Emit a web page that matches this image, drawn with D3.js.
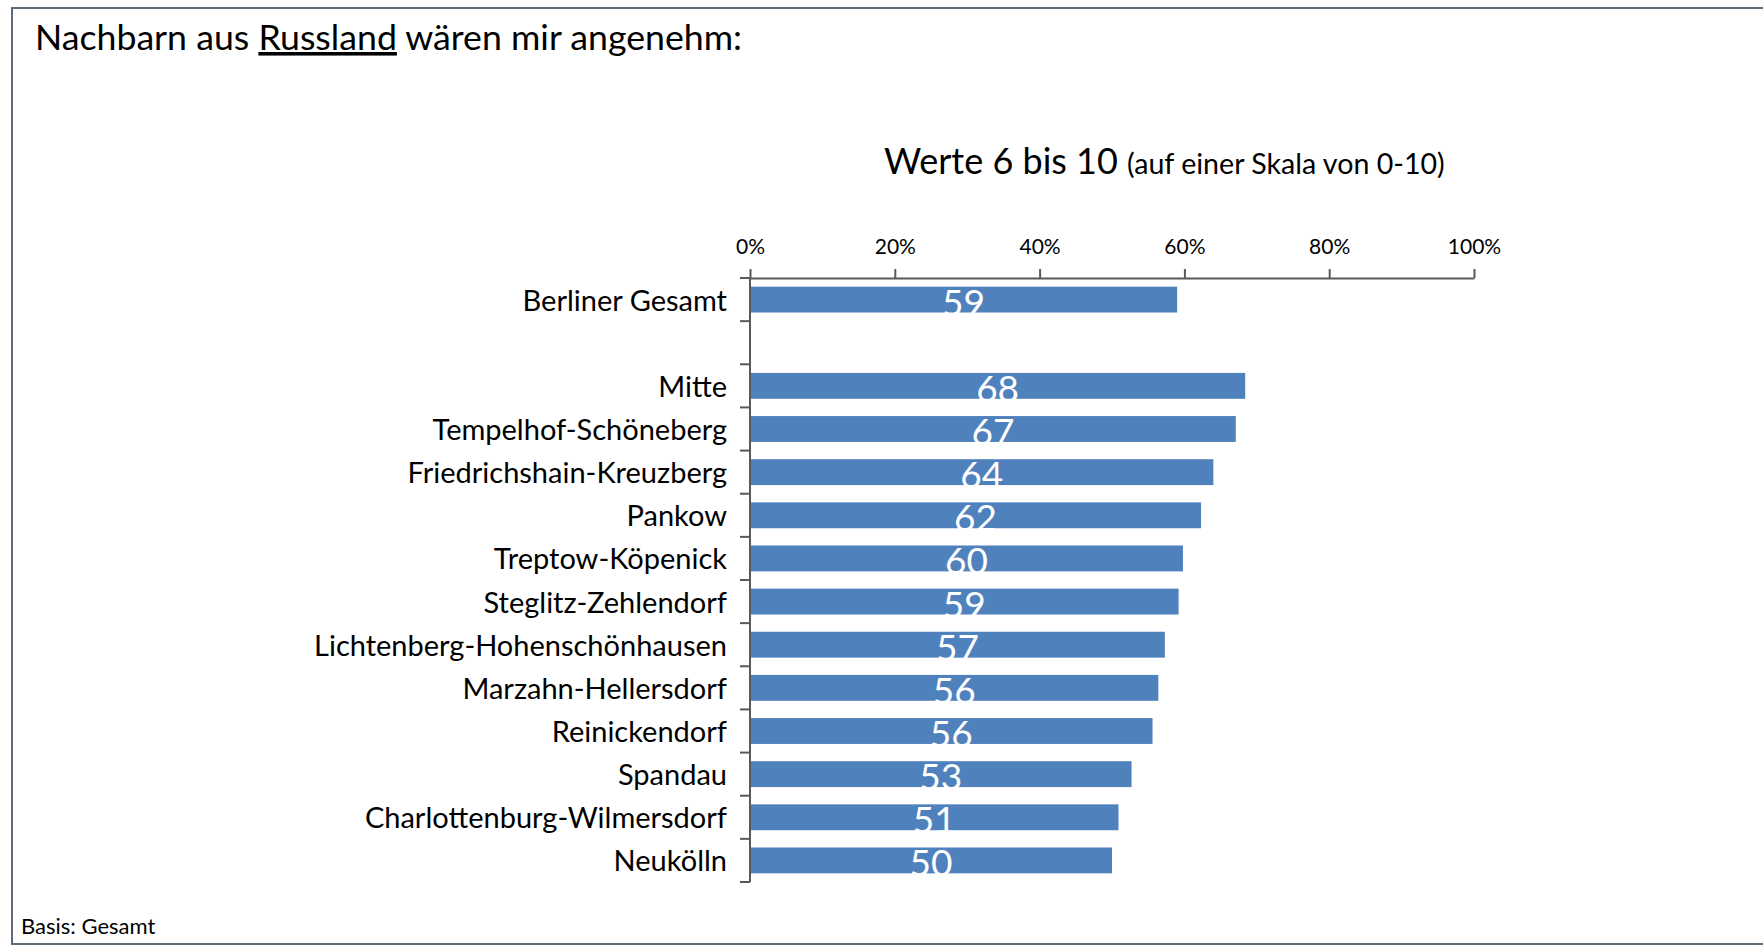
<!DOCTYPE html>
<html>
<head>
<meta charset="utf-8">
<script src="https://cdn.jsdelivr.net/npm/d3@7"></script>
<style>
  body { margin: 0; background: #fff; }
  svg text { font-family: Lato, "Liberation Sans Narrow", sans-serif; fill: #000; }
</style>
</head>
<body>
<svg id="chart" width="1763" height="946"></svg>
<script>
// Nachbarn aus Russland - Anteil Werte 6 bis 10, nach Bezirk

var categories = ["Berliner Gesamt", "", "Mitte", "Tempelhof-Schöneberg", "Friedrichshain-Kreuzberg",
    "Pankow", "Treptow-Köpenick", "Steglitz-Zehlendorf", "Lichtenberg-Hohenschönhausen",
    "Marzahn-Hellersdorf", "Reinickendorf", "Spandau", "Charlottenburg-Wilmersdorf", "Neukölln"];
var values = [59.0, null, 68.4, 67.1, 64.0, 62.3, 59.8, 59.2, 57.3, 56.4, 55.6, 52.7, 50.9, 50.0];
var labels = ["59", "", "68", "67", "64", "62", "60", "59", "57", "56", "56", "53", "51", "50"];
var xTicks = [0, 20, 40, 60, 80, 100];

var data = categories.map(function(c, i) {
    return { key: i, name: c, value: values[i], label: labels[i] };
});

var svg = d3.select("#chart");

var plotLeft = 750, plotRight = 1474, plotTop = 278, plotBottom = 882;

var xScale = d3.scaleLinear().domain([0, 100]).range([plotLeft, plotRight]);
var yScale = d3.scaleBand()
    .domain(data.map(function(d) { return d.key; }))
    .range([plotTop, plotBottom])
    .paddingInner(0.4)
    .paddingOuter(0.2);

// frame round the slide
svg.append("path")
    .attr("d", "M1770,8 H12 V944 H1770")
    .attr("fill", "none")
    .attr("stroke", "#5f6b77")
    .attr("stroke-width", 2);

// headline with underlined country
var title = svg.append("text")
    .attr("x", 35)
    .attr("y", 50)
    .style("font-size", "35.7px");
title.append("tspan").text("Nachbarn aus ");
title.append("tspan").text("Russland").style("text-decoration", "underline");
title.append("tspan").text(" wären mir angenehm:");

var sub = svg.append("text")
    .attr("x", 884)
    .attr("y", 174);
sub.append("tspan").text("Werte 6 bis 10 ").style("font-size", "36px");
sub.append("tspan").text("(auf einer Skala von 0-10)").style("font-size", "28.6px");

svg.append("text")
    .attr("x", 21)
    .attr("y", 934)
    .style("font-size", "22px")
    .text("Basis: Gesamt");

// bars
svg.append("g")
    .selectAll("rect")
    .data(data.filter(function(d) { return d.value !== null; }))
    .enter()
    .append("rect")
    .attr("x", xScale(0))
    .attr("y", function(d) { return yScale(d.key); })
    .attr("width", function(d) { return xScale(d.value) - xScale(0); })
    .attr("height", yScale.bandwidth())
    .attr("fill", "#4f81bd");

// value labels in the middle of the bar
svg.append("g")
    .selectAll("text")
    .data(data.filter(function(d) { return d.value !== null; }))
    .enter()
    .append("text")
    .attr("x", function(d) { return (xScale(0) + xScale(d.value)) / 2; })
    .attr("y", function(d) { return yScale(d.key) + yScale.bandwidth() + 3; })
    .attr("text-anchor", "middle")
    .style("font-size", "37px")
    .style("fill", "#fff")
    .text(function(d) { return d.label; });

// category names
svg.append("g")
    .selectAll("text")
    .data(data)
    .enter()
    .append("text")
    .attr("x", 727)
    .attr("y", function(d) { return yScale(d.key) + yScale.bandwidth() / 2 + 11; })
    .attr("text-anchor", "end")
    .style("font-size", "29px")
    .text(function(d) { return d.name; });

// x axis on top
var xAxis = svg.append("g")
    .attr("transform", "translate(0," + plotTop + ")")
    .call(d3.axisTop(xScale)
        .tickValues(xTicks)
        .tickFormat(function(d) { return d + "%"; })
        .tickSize(9)
        .tickSizeOuter(0)
        .tickPadding(15));
xAxis.selectAll("text")
    .style("font-size", "21px")
    .style("font-family", "Lato, sans-serif")
    .attr("fill", "#000");
xAxis.selectAll("line, path").attr("stroke", "#595959").attr("stroke-width", 2);

// y axis with ticks between categories
var step = yScale.step();
var bounds = d3.range(categories.length + 1).map(function(i) { return plotTop + i * step; });
var yAxis = svg.append("g");
yAxis.append("line")
    .attr("x1", plotLeft).attr("x2", plotLeft)
    .attr("y1", plotTop).attr("y2", plotBottom)
    .attr("stroke", "#595959").attr("stroke-width", 2);
yAxis.selectAll("line.tick")
    .data(bounds)
    .enter()
    .append("line")
    .attr("class", "tick")
    .attr("x1", plotLeft - 10).attr("x2", plotLeft)
    .attr("y1", function(d) { return d; })
    .attr("y2", function(d) { return d; })
    .attr("stroke", "#595959").attr("stroke-width", 2);
</script>
</body>
</html>
